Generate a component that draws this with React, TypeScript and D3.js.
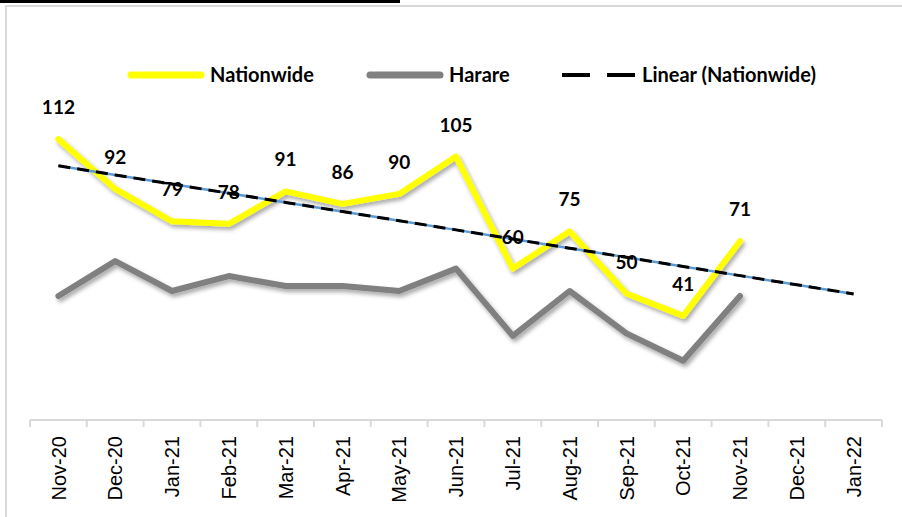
import React from 'react';
import * as d3 from 'd3';

const months = [
  'Nov-20', 'Dec-20', 'Jan-21', 'Feb-21', 'Mar-21', 'Apr-21', 'May-21', 'Jun-21',
  'Jul-21', 'Aug-21', 'Sep-21', 'Oct-21', 'Nov-21', 'Dec-21', 'Jan-22',
];
const nationwide = [112, 92, 79, 78, 91, 86, 90, 105, 60, 75, 50, 41, 71];
const harare = [49, 63, 51, 57, 53, 53, 51, 60, 33, 51, 34, 23, 49];
const legendLabels = ['Nationwide', 'Harare', 'Linear (Nationwide)'];

const width = 902;
const height = 517;

export default function App() {
  const x = d3.scaleBand<string>().domain(months).range([30, 882]);
  const y = d3.scaleLinear().domain([0, 150]).range([418, 44.5]);
  const cx = (i: number) => (x(months[i]) as number) + x.bandwidth() / 2;

  const line = d3
    .line<number>()
    .x((d, i) => cx(i))
    .y(d => y(d));

  // least squares trend on the nationwide series, projected to the last month
  const xs = nationwide.map((d, i) => i);
  const mx = d3.mean(xs) as number;
  const my = d3.mean(nationwide) as number;
  const slope =
    d3.sum(xs, (v, i) => (v - mx) * (nationwide[i] - my)) / d3.sum(xs, v => (v - mx) ** 2);
  const intercept = my - slope * mx;
  const trend = months.map((m, i) => intercept + slope * i);

  const axisY = 420;
  const bold = { fontFamily: 'Lato, sans-serif', fontWeight: 700 };

  return (
    <svg
      width={width}
      height={height}
      style={{ position: 'absolute', left: 0, top: 0, background: '#fff' }}
    >
      <defs>
        <filter id="shadow" x="-10%" y="-20%" width="120%" height="160%">
          <feDropShadow dx="2" dy="3" stdDeviation="2" floodColor="#000" floodOpacity="0.35" />
        </filter>
      </defs>
      <rect x={0} y={0} width={width} height={height} fill="#fff" />
      <rect x={0} y={0} width={400} height={3} fill="#000" />
      <rect x={6} y={6} width={1000} height={1000} fill="none" stroke="#d9d9d9" strokeWidth={2} />

      {/* x axis */}
      <line x1={30} x2={882} y1={axisY} y2={axisY} stroke="#d9d9d9" strokeWidth={2} />
      {months.map(m => (
        <line
          key={'t' + m}
          x1={x(m) as number}
          x2={x(m) as number}
          y1={axisY}
          y2={axisY + 7}
          stroke="#d9d9d9"
          strokeWidth={2}
        />
      ))}
      <line x1={882} x2={882} y1={axisY} y2={axisY + 7} stroke="#d9d9d9" strokeWidth={2} />
      {months.map((m, i) => (
        <text
          key={'l' + m}
          transform={`translate(${cx(i)},436) rotate(-90)`}
          textAnchor="end"
          dy="0.36em"
          fontFamily="'Liberation Sans', Arial, sans-serif"
          fontSize={20}
          fill="#000"
        >
          {m}
        </text>
      ))}

      {/* series */}
      <path
        d={line(nationwide) as string}
        fill="none"
        stroke="#ffff00"
        strokeWidth={6}
        strokeLinejoin="round"
        strokeLinecap="round"
        filter="url(#shadow)"
      />
      <path
        d={line(harare) as string}
        fill="none"
        stroke="#808080"
        strokeWidth={6}
        strokeLinejoin="round"
        strokeLinecap="round"
        filter="url(#shadow)"
      />
      <path d={line(trend) as string} fill="none" stroke="#5b9bd5" strokeWidth={2.5} />
      <path
        d={line(trend) as string}
        fill="none"
        stroke="#000"
        strokeWidth={3}
        strokeDasharray="12 7"
      />

      {/* data labels */}
      {nationwide.map((v, i) => (
        <text
          key={'v' + i}
          x={cx(i)}
          y={y(v) - 25}
          textAnchor="middle"
          fontSize={19}
          fill="#000"
          {...bold}
        >
          {v}
        </text>
      ))}

      {/* legend */}
      <line x1={131} x2={201} y1={75} y2={75} stroke="#ffff00" strokeWidth={7} strokeLinecap="round" />
      <text x={210} y={82} fontSize={20} {...bold}>{legendLabels[0]}</text>
      <line x1={370} x2={440} y1={75} y2={75} stroke="#808080" strokeWidth={7} strokeLinecap="round" />
      <text x={449} y={82} fontSize={20} {...bold}>{legendLabels[1]}</text>
      <line x1={562} x2={590} y1={75} y2={75} stroke="#000" strokeWidth={4} />
      <line x1={607} x2={635} y1={75} y2={75} stroke="#000" strokeWidth={4} />
      <text x={642} y={82} fontSize={20} {...bold}>{legendLabels[2]}</text>
    </svg>
  );
}
